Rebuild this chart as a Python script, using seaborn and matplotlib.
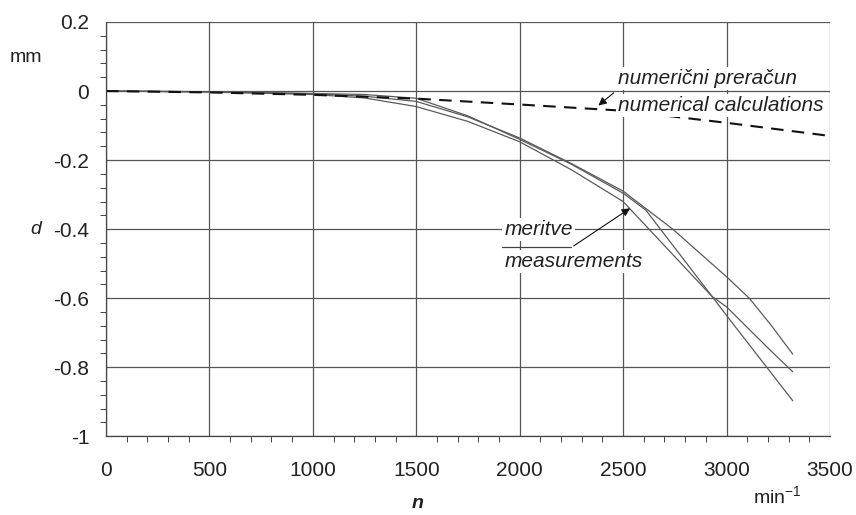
import numpy as np
import pandas as pd
import matplotlib
matplotlib.use("Agg")
import matplotlib.pyplot as plt
from matplotlib.ticker import MultipleLocator
import seaborn as sns

# numerical calculation (dashed)
n_calc = [0, 500, 1000, 1500, 2000, 2500, 3000, 3500]
d_calc = [0, -0.004, -0.011, -0.022, -0.039, -0.057, -0.092, -0.13]

# measurements, three runs
n_meas_a = [0, 500, 1000, 1250, 1500, 1750, 2000, 2250, 2500, 2740, 3000, 3110, 3215, 3320]
d_meas_a = [0, -0.002, -0.008, -0.015, -0.030, -0.075, -0.136, -0.210, -0.290, -0.400, -0.538, -0.600, -0.678, -0.762]

n_meas_b = [0, 500, 1000, 1250, 1500, 1750, 2000, 2250, 2500, 2610, 2930, 3000, 3320]
d_meas_b = [0, -0.002, -0.007, -0.010, -0.021, -0.072, -0.140, -0.212, -0.296, -0.345, -0.595, -0.650, -0.897]

n_meas_c = [0, 500, 1000, 1250, 1500, 1750, 2000, 2250, 2500, 2930, 3000, 3210, 3320]
d_meas_c = [0, -0.003, -0.010, -0.020, -0.045, -0.088, -0.147, -0.228, -0.320, -0.595, -0.625, -0.750, -0.813]

sns.set_theme(style="white")
plt.rcParams['font.family'] = ['Liberation Sans', 'DejaVu Sans']
plt.rcParams['mathtext.fontset'] = 'custom'
plt.rcParams['mathtext.rm'] = 'Liberation Sans'

fig = plt.figure(figsize=(8.56, 5.15), dpi=100)
ax = fig.add_axes([0.1238, 0.1528, 0.8458, 0.8045])

meas_color = "#5a5a5a"
for n_vals, d_vals in [(n_meas_a, d_meas_a), (n_meas_b, d_meas_b), (n_meas_c, d_meas_c)]:
    df = pd.DataFrame({"n": n_vals, "d": d_vals})
    sns.lineplot(data=df, x="n", y="d", ax=ax, color=meas_color, lw=0.9, sort=False)

df_calc = pd.DataFrame({"n": n_calc, "d": d_calc})
sns.lineplot(data=df_calc, x="n", y="d", ax=ax, color="#111111", lw=1.5,
             linestyle=(0, (6, 4)))

ax.set_xlim(0, 3500)
ax.set_ylim(-1, 0.2)
ax.xaxis.set_major_locator(MultipleLocator(500))
ax.xaxis.set_minor_locator(MultipleLocator(100))
ax.yaxis.set_major_locator(MultipleLocator(0.2))
ax.yaxis.set_minor_locator(MultipleLocator(0.04))
ax.yaxis.set_major_formatter(plt.FuncFormatter(lambda v, p: f"{v:g}" if abs(v) > 1e-9 else "0"))

ax.grid(True, which="major", color="#555555", lw=0.9)
for side in ["top", "right"]:
    ax.spines[side].set_visible(False)
for side in ["left", "bottom"]:
    ax.spines[side].set_color("#444444")
    ax.spines[side].set_linewidth(0.9)

ax.tick_params(axis="both", which="both", direction="out", colors="#444444",
               labelcolor="#222222")
ax.tick_params(axis="y", which="major", length=7, width=0.8, pad=5, labelsize=15)
ax.tick_params(axis="y", which="minor", length=4, width=0.7, left=True)
ax.tick_params(axis="x", which="major", length=7, width=0.8, pad=11, labelsize=15)
ax.tick_params(axis="x", which="minor", length=4, width=0.7, bottom=True)
ax.set_xlabel("")
ax.set_ylabel("")

# axis captions
fig.text(10 / 856, 1 - 57 / 515, "mm", fontsize=14, va="center", ha="left", color="#222222")
fig.text(30 / 856, 1 - 230 / 515, "d", fontsize=14, style="italic", va="center", ha="left", color="#222222")
fig.text(418 / 856, 1 - 504 / 515, "n", fontsize=14, style="italic", weight="bold", va="center", ha="center", color="#222222")
fig.text(753 / 856, 1 - 497 / 515, "min$^{-1}$", fontsize=14, va="center", ha="left", color="#222222")

# annotations
white_box = dict(facecolor="white", edgecolor="none", pad=1.5)
ax.annotate("", xy=(2370, -0.047), xytext=(2465, 0.0),
            arrowprops=dict(arrowstyle="-|>", color="#111111", lw=0.8, mutation_scale=12))
ax.text(2475, 0.036, "numerični preračun", fontsize=15, style="italic", color="#222222",
        va="center", ha="left", bbox=white_box)
ax.text(2475, -0.043, "numerical calculations", fontsize=15, style="italic", color="#222222",
        va="center", ha="left", bbox=white_box)

ax.annotate("", xy=(2545, -0.335), xytext=(2250, -0.453),
            arrowprops=dict(arrowstyle="-|>", color="#111111", lw=0.8, mutation_scale=12))
ax.plot([1915, 2250], [-0.453, -0.453], color="#444444", lw=0.9)
ax.text(1925, -0.402, "meritve", fontsize=15, style="italic", color="#222222",
        va="center", ha="left", bbox=white_box)
ax.text(1925, -0.494, "measurements", fontsize=15, style="italic", color="#222222",
        va="center", ha="left", bbox=white_box)

fig.savefig("out.png", dpi=100)
